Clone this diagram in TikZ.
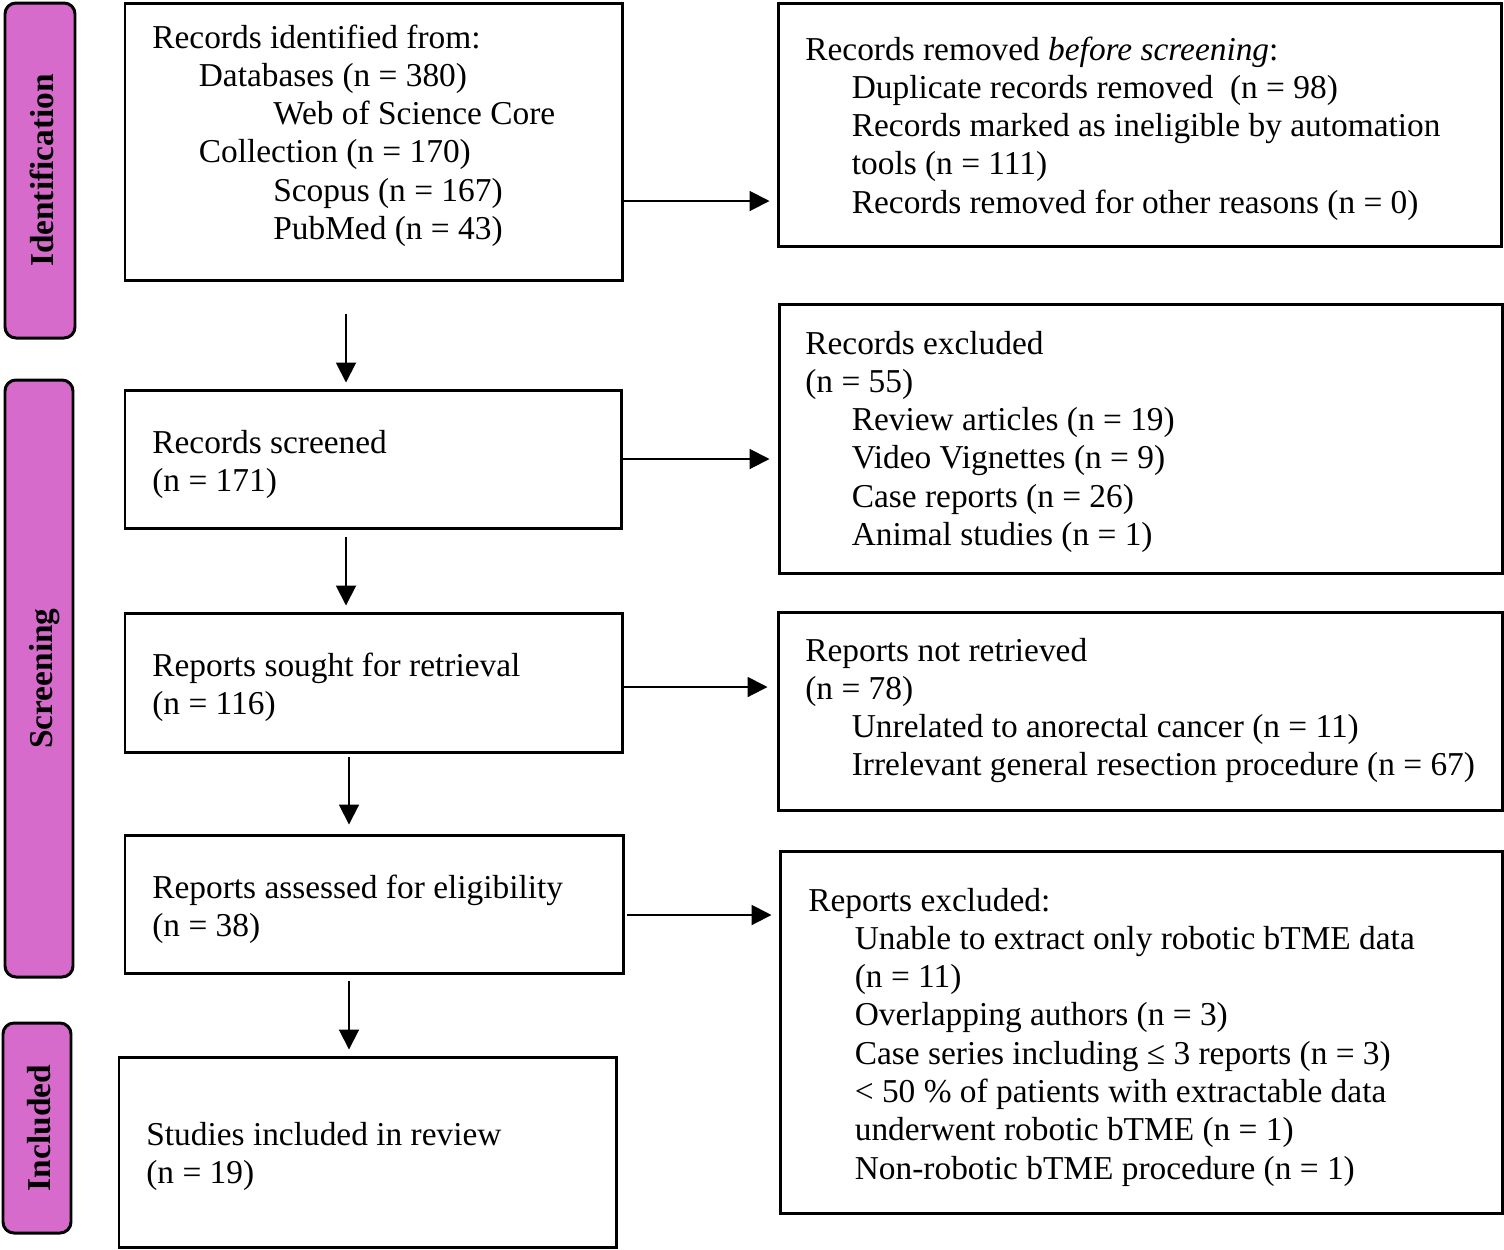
\documentclass[tikz,border=0pt]{standalone}
\usepackage{fontspec}
\setmainfont{Liberation Serif}
\usetikzlibrary{arrows.meta}
\definecolor{phase}{RGB}{214,107,204}
\newcommand\myind{\hspace*{0.93cm}}
\newcommand\myindb{\hspace*{2.42cm}}
\begin{document}
\begin{tikzpicture}[x=0.02cm,y=-0.02cm,
  mainbox/.style={draw=black,line width=1.7pt,fill=white,inner sep=0pt},
  phasebox/.style={draw=black,line width=1.7pt,fill=phase,rounded corners=0.22cm,inner sep=0pt},
  phaselabel/.style={rotate=90,font=\fontsize{19}{22}\selectfont\bfseries,inner sep=0pt,text depth=0pt},
  txt/.style={anchor=base west,inner sep=0pt,font=\fontsize{19}{21.8}\selectfont},
  arr/.style={line width=1.1pt,-{Triangle[length=0.4cm,width=0.4cm]}}]
\useasboundingbox (0,0) rectangle (1504,1249);
% phase boxes
\node[phasebox,minimum width={70*0.02cm},minimum height={335*0.02cm}] (pid) at (40,170.5) {};
\node[phasebox,minimum width={68*0.02cm},minimum height={597*0.02cm}] (psc) at (39,678.5) {};
\node[phasebox,minimum width={68*0.02cm},minimum height={210*0.02cm}] (pin) at (37,1128) {};
\node[phaselabel] (lid) at ([xshift=0.04cm]pid.center) {Identification};
\node[phaselabel] (lsc) at ([xshift=0.04cm]psc.center) {Screening};
\node[phaselabel] (lin) at ([xshift=0.04cm]pin.center) {Included};
% main boxes
\node[mainbox,minimum width={497*0.02cm},minimum height={277*0.02cm}] (b1) at (373.5,141.5) {};
\node[mainbox,minimum width={496*0.02cm},minimum height={138*0.02cm}] (b2) at (373,459) {};
\node[mainbox,minimum width={497*0.02cm},minimum height={139*0.02cm}] (b3) at (373.5,682.5) {};
\node[mainbox,minimum width={498*0.02cm},minimum height={138*0.02cm}] (b4) at (374,904) {};
\node[mainbox,minimum width={497*0.02cm},minimum height={190*0.02cm}] (b5) at (367.5,1152) {};
% right boxes
\node[mainbox,minimum width={723*0.02cm},minimum height={243*0.02cm}] (r1) at (1139.5,124.5) {};
\node[mainbox,minimum width={723*0.02cm},minimum height={269*0.02cm}] (r2) at (1140.5,438.5) {};
\node[mainbox,minimum width={724*0.02cm},minimum height={198*0.02cm}] (r3) at (1140,711) {};
\node[mainbox,minimum width={722*0.02cm},minimum height={362*0.02cm}] (r4) at (1141,1032) {};
% texts
\node[txt] (t1) at (152,48) {\begin{tabular}[t]{@{}l@{}}
Records identified from:\\
\myind Databases (n = 380)\\
\myindb Web of Science Core\\
\myind Collection (n = 170)\\
\myindb Scopus (n = 167)\\
\myindb PubMed (n = 43)
\end{tabular}};
\node[txt] (s1) at (805,60) {\begin{tabular}[t]{@{}l@{}}
Records removed \textit{before screening}:\\
\myind Duplicate records removed\ \ (n = 98)\\
\myind Records marked as ineligible by automation\\
\myind tools (n = 111)\\
\myind Records removed for other reasons (n = 0)
\end{tabular}};
\node[txt] (t2) at (152,453) {\begin{tabular}[t]{@{}l@{}}
Records screened\\
(n = 171)
\end{tabular}};
\node[txt] (s2) at (805,354) {\begin{tabular}[t]{@{}l@{}}
Records excluded\\
(n = 55)\\
\myind Review articles (n = 19)\\
\myind Video Vignettes (n = 9)\\
\myind Case reports (n = 26)\\
\myind Animal studies (n = 1)
\end{tabular}};
\node[txt] (t3) at (152,676) {\begin{tabular}[t]{@{}l@{}}
Reports sought for retrieval\\
(n = 116)
\end{tabular}};
\node[txt] (s3) at (805,661) {\begin{tabular}[t]{@{}l@{}}
Reports not retrieved\\
(n = 78)\\
\myind Unrelated to anorectal cancer (n = 11)\\
\myind Irrelevant general resection procedure (n = 67)
\end{tabular}};
\node[txt] (t4) at (152,898) {\begin{tabular}[t]{@{}l@{}}
Reports assessed for eligibility\\
(n = 38)
\end{tabular}};
\node[txt] (s4) at (808,911) {\begin{tabular}[t]{@{}l@{}}
Reports excluded:\\
\myind Unable to extract only robotic bTME data\\
\myind (n = 11)\\
\myind Overlapping authors (n = 3)\\
\myind Case series including ≤ 3 reports (n = 3)\\
\myind < 50 \% of patients with extractable data\\
\myind underwent robotic bTME (n = 1)\\
\myind Non-robotic bTME procedure (n = 1)
\end{tabular}};
\node[txt] (t5) at (146,1145) {\begin{tabular}[t]{@{}l@{}}
Studies included in review\\
(n = 19)
\end{tabular}};
% arrows
\coordinate (va) at (346,0);
\coordinate (vb) at (349,0);
\coordinate (h1) at (700,201);
\coordinate (h2) at (700,459);
\coordinate (h3) at (700,687);
\coordinate (h4) at (700,915);
\draw[arr,shorten <=0.64cm,shorten >=0.12cm] (va |- b1.south) -- (va |- b2.north);
\draw[arr,shorten <=0.14cm,shorten >=0.12cm] (va |- b2.south) -- (va |- b3.north);
\draw[arr,shorten <=0.06cm,shorten >=0.18cm] (vb |- b3.south) -- (vb |- b4.north);
\draw[arr,shorten <=0.12cm,shorten >=0.12cm] (vb |- b4.south) -- (vb |- b5.north);
\draw[arr,shorten >=0.14cm] (h1 -| b1.east) -- (h1 -| r1.west);
\draw[arr,shorten >=0.16cm] (h2 -| b2.east) -- (h2 -| r2.west);
\draw[arr,shorten >=0.18cm] (h3 -| b3.east) -- (h3 -| r3.west);
\draw[arr,shorten <=0.04cm,shorten >=0.14cm] (h4 -| b4.east) -- (h4 -| r4.west);
\end{tikzpicture}
\end{document}
